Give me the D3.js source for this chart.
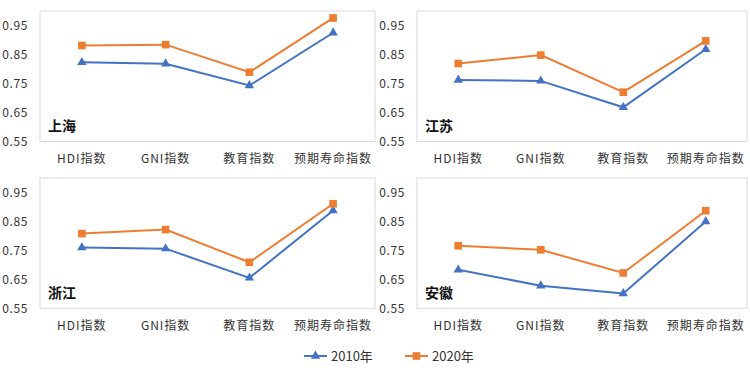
<!DOCTYPE html>
<html>
<head>
<meta charset="utf-8">
<script src="https://cdn.jsdelivr.net/npm/d3@7"></script>
<style>
  body { margin: 0; background: #fff; }
  text { font-family: "Noto Sans CJK SC", "Noto Sans", sans-serif; }
</style>
</head>
<body>
<div id="chart"></div>
<script>
// categories and values
const categories = ["HDI指数", "GNI指数", "教育指数", "预期寿命指数"];
const regions = ["上海", "江苏", "浙江", "安徽"];
const yTicks = [0.55, 0.65, 0.75, 0.85, 0.95];
const years = ["2010年", "2020年"];

const values2010 = [
    [0.823, 0.818, 0.743, 0.925],
    [0.762, 0.759, 0.668, 0.868],
    [0.760, 0.756, 0.655, 0.888],
    [0.683, 0.628, 0.601, 0.850]
];
const values2020 = [
    [0.881, 0.884, 0.789, 0.976],
    [0.819, 0.848, 0.720, 0.897],
    [0.808, 0.822, 0.709, 0.911],
    [0.766, 0.752, 0.672, 0.887]
];

const colors = ["#4472C4", "#ED7D31"];
const width = 750, height = 371;

const svg = d3.select("#chart").append("svg")
    .attr("width", width)
    .attr("height", height);

// plot boxes for the 4 panels
const panels = [
    { x0: 40, x1: 375, y0: 11, y1: 141.5 },
    { x0: 417, x1: 747, y0: 11, y1: 141.5 },
    { x0: 40, x1: 375, y0: 178, y1: 308.3 },
    { x0: 417, x1: 747, y0: 178, y1: 308.3 }
];

const triangle = d3.symbol().type(d3.symbolTriangle).size(38);
const square = d3.symbol().type(d3.symbolSquare).size(58);

panels.forEach((p, i) => {
    const g = svg.append("g");

    const x = d3.scalePoint().domain(categories).range([p.x0, p.x1]).padding(0.5);
    const y = d3.scaleLinear().domain([0.55, 1.0]).range([p.y1, p.y0]);

    g.append("rect")
        .attr("x", p.x0).attr("y", p.y0)
        .attr("width", p.x1 - p.x0).attr("height", p.y1 - p.y0)
        .attr("fill", "none")
        .attr("stroke", "#d9d9d9")
        .attr("stroke-width", 1);

    // y tick labels
    g.selectAll(".ytick")
        .data(yTicks)
        .enter().append("text")
        .attr("x", p.x0 - 12)
        .attr("y", d => y(d))
        .attr("dy", "0.35em")
        .attr("text-anchor", "end")
        .attr("font-size", 12)
        .attr("letter-spacing", 0.6)
        .attr("fill", "#333")
        .text(d => d.toFixed(2));

    // x labels
    g.selectAll(".xtick")
        .data(categories)
        .enter().append("text")
        .attr("x", d => x(d))
        .attr("y", p.y1 + 17)
        .attr("dy", "0.35em")
        .attr("text-anchor", "middle")
        .attr("font-size", 12)
        .attr("letter-spacing", 1)
        .attr("fill", "#333")
        .text(d => d);

    // region name
    g.append("text")
        .attr("x", p.x0 + 8)
        .attr("y", p.y1 - 15)
        .attr("dy", "0.35em")
        .attr("font-size", 14)
        .attr("font-weight", "bold")
        .attr("fill", "#111")
        .text(regions[i]);

    const line = d3.line().x((d, j) => x(categories[j])).y(d => y(d));

    [values2010[i], values2020[i]].forEach((vals, s) => {
        g.append("path")
            .datum(vals)
            .attr("fill", "none")
            .attr("stroke", colors[s])
            .attr("stroke-width", 2)
            .attr("d", line);

        g.selectAll(".m" + s)
            .data(vals)
            .enter().append("path")
            .attr("transform", (d, j) => `translate(${x(categories[j])},${y(d)})`)
            .attr("d", s === 0 ? triangle : square)
            .attr("fill", colors[s]);
    });
});

// legend
const legendItems = [
    { x: 304, label: years[0] },
    { x: 405, label: years[1] }
];
const ly = 356;
legendItems.forEach((d, s) => {
    const g = svg.append("g");
    g.append("line")
        .attr("x1", d.x).attr("x2", d.x + 23)
        .attr("y1", ly).attr("y2", ly)
        .attr("stroke", colors[s])
        .attr("stroke-width", 2);
    g.append("path")
        .attr("transform", `translate(${d.x + 11.5},${ly})`)
        .attr("d", s === 0 ? triangle : square)
        .attr("fill", colors[s]);
    g.append("text")
        .attr("x", d.x + 27)
        .attr("y", ly)
        .attr("dy", "0.35em")
        .attr("font-size", 13)
        .attr("fill", "#333")
        .text(d.label);
});
</script>
</body>
</html>
